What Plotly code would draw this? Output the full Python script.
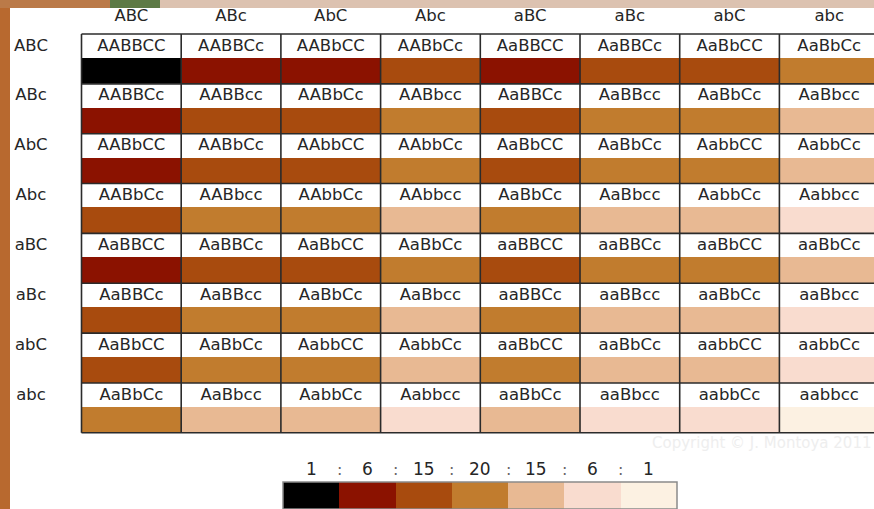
import plotly.graph_objects as go

# ---------------- data ----------------
col_gametes = ["ABC", "ABc", "AbC", "Abc", "aBC", "aBc", "abC", "abc"]
row_gametes = ["ABC", "ABc", "AbC", "Abc", "aBC", "aBc", "abC", "abc"]

genotypes = [
    ["AABBCC", "AABBCc", "AABbCC", "AABbCc", "AaBBCC", "AaBBCc", "AaBbCC", "AaBbCc"],
    ["AABBCc", "AABBcc", "AABbCc", "AABbcc", "AaBBCc", "AaBBcc", "AaBbCc", "AaBbcc"],
    ["AABbCC", "AABbCc", "AAbbCC", "AAbbCc", "AaBbCC", "AaBbCc", "AabbCC", "AabbCc"],
    ["AABbCc", "AABbcc", "AAbbCc", "AAbbcc", "AaBbCc", "AaBbcc", "AabbCc", "Aabbcc"],
    ["AaBBCC", "AaBBCc", "AaBbCC", "AaBbCc", "aaBBCC", "aaBBCc", "aaBbCC", "aaBbCc"],
    ["AaBBCc", "AaBBcc", "AaBbCc", "AaBbcc", "aaBBCc", "aaBBcc", "aaBbCc", "aaBbcc"],
    ["AaBbCC", "AaBbCc", "AabbCC", "AabbCc", "aaBbCC", "aaBbCc", "aabbCC", "aabbCc"],
    ["AaBbCc", "AaBbcc", "AabbCc", "Aabbcc", "aaBbCc", "aaBbcc", "aabbCc", "aabbcc"],
]

# number of dominant (capital) alleles per cell
dominant_count = [
    [6, 5, 5, 4, 5, 4, 4, 3],
    [5, 4, 4, 3, 4, 3, 3, 2],
    [5, 4, 4, 3, 4, 3, 3, 2],
    [4, 3, 3, 2, 3, 2, 2, 1],
    [5, 4, 4, 3, 4, 3, 3, 2],
    [4, 3, 3, 2, 3, 2, 2, 1],
    [4, 3, 3, 2, 3, 2, 2, 1],
    [3, 2, 2, 1, 2, 1, 1, 0],
]

ratio_labels = ["1", "6", "15", "20", "15", "6", "1"]
legend_levels = [6, 5, 4, 3, 2, 1, 0]

# colour for 0..6 dominant alleles
shade_colors = ["#fcf1e2", "#f9dccf", "#e8b993", "#c17c2e", "#a84b0e", "#8b1200", "#000000"]

# ---------------- styling / layout ----------------
W, H = 874, 509
FONT = "DejaVu Sans"
TXT = "#262626"
GRID = "#2b2b2b"
FS = 16.5

left_px, col_w = 81.5, 99.7
top_px, row_h = 34.0, 49.85
white_frac = 0.48

xr = [-left_px / col_w, (W - left_px) / col_w]
yr = [(H - top_px) / row_h, -top_px / row_h]

colorscale = []
for k, c in enumerate(shade_colors):
    colorscale.append([k / 7, c])
    colorscale.append([(k + 1) / 7, c])

n = len(col_gametes)
m = len(row_gametes)

# heatmap with alternating white (None) and coloured rows
y_edges = []
z_rows = []
for i in range(m):
    y_edges += [i, i + white_frac]
    z_rows.append([None] * n)
    z_rows.append(dominant_count[i])
y_edges.append(m)

fig = go.Figure()

fig.add_trace(go.Heatmap(
    x=list(range(n + 1)), y=y_edges, z=z_rows,
    colorscale=colorscale, zmin=-0.5, zmax=6.5,
    showscale=False, hoverinfo="skip",
))

# grid lines
gx, gy = [], []
for j in range(n + 1):
    gx += [j, j, None]
    gy += [0, m, None]
for i in range(m + 1):
    gx += [0, n, None]
    gy += [i, i, None]
fig.add_trace(go.Scatter(x=gx, y=gy, mode="lines",
                         line=dict(color=GRID, width=1.6),
                         hoverinfo="skip", showlegend=False))

# cell genotype text
tx, ty, tt = [], [], []
for i in range(m):
    for j in range(n):
        tx.append(j + 0.5)
        ty.append(i + white_frac / 2 + 0.01)
        tt.append(genotypes[i][j])
fig.add_trace(go.Scatter(x=tx, y=ty, text=tt, mode="text",
                         textfont=dict(family=FONT, size=FS, color=TXT),
                         hoverinfo="skip", showlegend=False))

# column headers
fig.add_trace(go.Scatter(x=[j + 0.5 for j in range(n)], y=[(17 - top_px) / row_h] * n,
                         text=col_gametes, mode="text",
                         textfont=dict(family=FONT, size=FS, color=TXT),
                         hoverinfo="skip", showlegend=False))
# row headers
fig.add_trace(go.Scatter(x=[(31 - left_px) / col_w] * m,
                         y=[i + white_frac / 2 + 0.01 for i in range(m)],
                         text=row_gametes, mode="text",
                         textfont=dict(family=FONT, size=FS, color=TXT),
                         hoverinfo="skip", showlegend=False))

# legend bar
fig.add_trace(go.Heatmap(
    x=list(range(len(legend_levels))), y=[0], z=[legend_levels],
    colorscale=colorscale, zmin=-0.5, zmax=6.5,
    showscale=False, hoverinfo="skip", xaxis="x2", yaxis="y2",
))

lx0, lx1 = 283 / W, 677 / W
ly1 = (H - 482) / H

annotations = []
ty_leg = (H - 469) / H
for k, lab in enumerate(ratio_labels):
    annotations.append(dict(x=k, y=ty_leg, xref="x2", yref="paper", text=lab,
                            xanchor="center", yanchor="middle",
                            showarrow=False, font=dict(family=FONT, size=17, color=TXT)))
    if k < len(ratio_labels) - 1:
        annotations.append(dict(x=k + 0.5, y=ty_leg, xref="x2", yref="paper", text=":",
                                xanchor="center", yanchor="middle",
                                showarrow=False, font=dict(family=FONT, size=16, color="#666")))

annotations.append(dict(x=762 / W, y=(H - 443) / H, xref="paper", yref="paper",
                        xanchor="center", yanchor="middle",
                        text="Copyright © J. Montoya 2011", showarrow=False,
                        font=dict(family=FONT, size=15, color="#eeeeee")))

shapes = [
    # legend border
    dict(type="rect", xref="x2 domain", yref="y2 domain", x0=0, x1=1, y0=0, y1=1,
         line=dict(color="#8a8a8a", width=1.5), fillcolor="rgba(0,0,0,0)"),
    # background textures (left and top strips)
    dict(type="rect", xref="paper", yref="paper", x0=0, x1=10 / W, y0=0, y1=1,
         line=dict(width=0), fillcolor="#b8692f", layer="below"),
    dict(type="rect", xref="paper", yref="paper", x0=0, x1=110 / W, y0=1 - 8 / H, y1=1,
         line=dict(width=0), fillcolor="#bb7a48", layer="below"),
    dict(type="rect", xref="paper", yref="paper", x0=110 / W, x1=160 / W, y0=1 - 8 / H, y1=1,
         line=dict(width=0), fillcolor="#5d7a45", layer="below"),
    dict(type="rect", xref="paper", yref="paper", x0=160 / W, x1=1, y0=1 - 8 / H, y1=1,
         line=dict(width=0), fillcolor="#dcc2b0", layer="below"),
]

fig.update_layout(
    width=W, height=H, autosize=False,
    margin=dict(l=0, r=0, t=0, b=0),
    paper_bgcolor="white", plot_bgcolor="rgba(0,0,0,0)",
    showlegend=False,
    xaxis=dict(range=xr, domain=[0, 1], visible=False, fixedrange=True),
    yaxis=dict(range=yr, domain=[0, 1], visible=False, fixedrange=True),
    xaxis2=dict(range=[-0.5, 6.5], domain=[lx0, lx1], anchor="y2", visible=False, fixedrange=True),
    yaxis2=dict(range=[-0.5, 0.5], domain=[0, ly1], anchor="x2", visible=False, fixedrange=True),
    annotations=annotations,
    shapes=shapes,
)

fig.write_html("out.html", config={"displayModeBar": False},
               post_script="document.body.style.margin='0px';document.body.style.overflow='hidden';")
